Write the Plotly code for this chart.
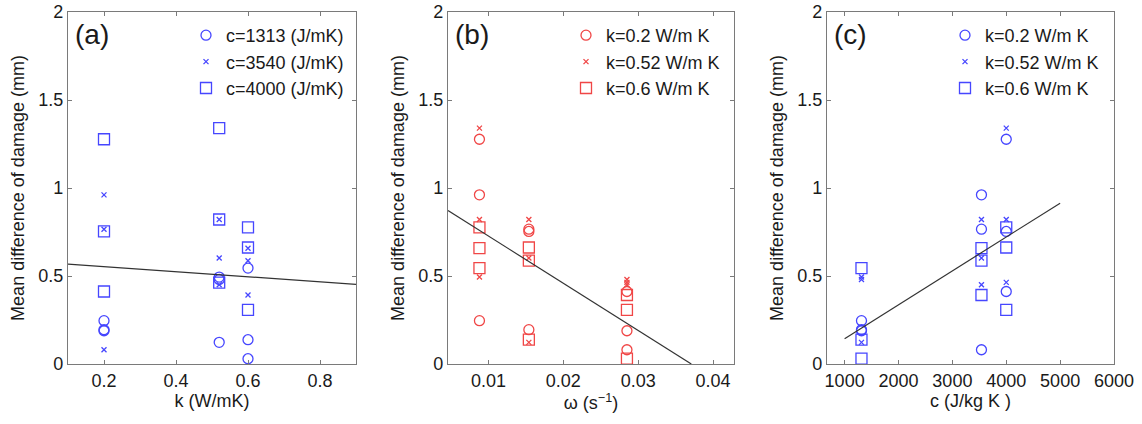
import plotly.graph_objects as go

# ---- data ----
# panel (a): x = k (W/mK), grouped by c
k_levels = [0.2, 0.2, 0.2, 0.52, 0.52, 0.52, 0.6, 0.6, 0.6]
a_c1313 = [0.246, 0.195, 0.189, 0.494, 0.123, 0.480, 0.545, 0.138, 0.030]
a_c3540 = [0.961, 0.766, 0.081, 0.821, 0.602, 0.450, 0.658, 0.587, 0.392]
a_c4000 = [1.277, 0.753, 0.412, 1.340, 0.821, 0.462, 0.776, 0.662, 0.308]
a_fit_x = [0.1, 0.9]
a_fit_y = [0.568, 0.452]

# panel (b): x = omega (1/s), grouped by k
w_levels = [0.0088, 0.0088, 0.0088, 0.0154, 0.0154, 0.0154, 0.0285, 0.0285, 0.0285]
b_k02 = [1.277, 0.961, 0.246, 0.766, 0.753, 0.195, 0.412, 0.189, 0.081]
b_k052 = [1.340, 0.821, 0.494, 0.821, 0.602, 0.123, 0.464, 0.450, 0.480]
b_k06 = [0.776, 0.658, 0.545, 0.662, 0.587, 0.138, 0.392, 0.308, 0.030]
b_fit_x = [0.0046, 0.0371]
b_fit_y = [0.872, 0.0]

# panel (c): x = c (J/kg K), grouped by k
c_levels = [1313, 1313, 1313, 3540, 3540, 3540, 4000, 4000, 4000]
c_k02 = [0.246, 0.195, 0.189, 0.961, 0.766, 0.081, 1.277, 0.753, 0.412]
c_k052 = [0.494, 0.480, 0.123, 0.821, 0.602, 0.450, 1.340, 0.821, 0.464]
c_k06 = [0.545, 0.138, 0.030, 0.658, 0.587, 0.392, 0.776, 0.662, 0.308]
c_fit_x = [1000, 5000]
c_fit_y = [0.144, 0.914]

y_ticks = [0, 0.5, 1, 1.5, 2]
y_ticktext = ["0", "0.5", "1", "1.5", "2"]
a_ticks = [0.2, 0.4, 0.6, 0.8]
b_ticks = [0.01, 0.02, 0.03, 0.04]
c_ticks = [1000, 2000, 3000, 4000, 5000, 6000]

BLUE = "rgb(70,70,255)"
RED = "rgb(240,70,70)"
FONT = "Liberation Sans, Arial, sans-serif"
TXT = "#1a1a1a"
FRAME = "#7a7a7a"

fig = go.Figure()

def add_group(xs, ys, names, color, xa, ya, legend):
    symbols = [("circle-open", 10), ("x-thin-open", 5), ("square-open", 11)]
    for (sym, sz), yv, nm in zip(symbols, ys, names):
        fig.add_trace(go.Scatter(
            x=xs, y=yv, mode="markers", name=nm,
            marker=dict(symbol=sym, size=sz, color=color,
                        line=dict(color=color, width=1.3)),
            xaxis=xa, yaxis=ya, legend=legend, cliponaxis=False))

add_group(k_levels, [a_c1313, a_c3540, a_c4000],
          ["c=1313 (J/mK)", "c=3540 (J/mK)", "c=4000 (J/mK)"], BLUE, "x", "y", "legend")
add_group(w_levels, [b_k02, b_k052, b_k06],
          ["k=0.2 W/m K", "k=0.52 W/m K", "k=0.6 W/m K"], RED, "x2", "y2", "legend2")
add_group(c_levels, [c_k02, c_k052, c_k06],
          ["k=0.2 W/m K", "k=0.52 W/m K", "k=0.6 W/m K"], BLUE, "x3", "y3", "legend3")

for fx, fy, xa, ya in [(a_fit_x, a_fit_y, "x", "y"), (b_fit_x, b_fit_y, "x2", "y2"),
                       (c_fit_x, c_fit_y, "x3", "y3")]:
    fig.add_trace(go.Scatter(x=fx, y=fy, mode="lines", showlegend=False,
                             line=dict(color="#333333", width=1.2), xaxis=xa, yaxis=ya))

W, H = 1142, 424
doms = [(68, 356), (448, 734), (827, 1114)]
ydom = [1 - 364 / H, 1 - 12 / H]

axis_common = dict(showline=True, mirror="ticks", linecolor=FRAME, linewidth=1.2,
                   ticks="inside", ticklen=4, tickcolor=FRAME, showgrid=False,
                   zeroline=False, automargin=False, ticklabeloverflow="allow",
                   tickfont=dict(family=FONT, size=18, color=TXT),
                   title_font=dict(family=FONT, size=18, color=TXT))

xinfo = [([0.1, 0.9], a_ticks, [str(t) for t in a_ticks], "k (W/mK)"),
         ([0.0046, 0.0428], b_ticks, [str(t) for t in b_ticks], "ω (s<sup>−1</sup>)"),
         ([673, 6000], c_ticks, [str(t) for t in c_ticks], "c (J/kg K )")]

layout = dict(width=W, height=H, paper_bgcolor="white", plot_bgcolor="white",
              margin=dict(l=0, r=0, t=0, b=0), showlegend=True)
for i, ((l, r), (rng, tv, tt, ttl)) in enumerate(zip(doms, xinfo)):
    sfx = "" if i == 0 else str(i + 1)
    layout["xaxis" + sfx] = dict(axis_common, domain=[l / W, r / W], range=rng,
                                 tickvals=tv, ticktext=tt, anchor="y" + sfx,
                                 title=dict(text=ttl, standoff=0))
    layout["yaxis" + sfx] = dict(axis_common, domain=ydom, range=[0, 2],
                                 tickvals=y_ticks, ticktext=y_ticktext, anchor="x" + sfx,
                                 title=dict(text="Mean difference of damage (mm)", standoff=8))
    layout["legend" + sfx] = dict(x=(l + 118) / W, y=1 - 17 / H, xanchor="left", yanchor="top",
                                  bgcolor="rgba(0,0,0,0)", borderwidth=0,
                                  font=dict(family=FONT, size=18, color=TXT),
                                  tracegroupgap=0, itemsizing="trace")

fig.update_layout(**layout)

for (l, r), lab in zip(doms, ["(a)", "(b)", "(c)"]):
    fig.add_annotation(x=(l + 5) / W, y=1 - 34 / H, xref="paper", yref="paper",
                       text=lab, showarrow=False, xanchor="left", yanchor="middle",
                       font=dict(family=FONT, size=28, color=TXT))

fig.write_html("out.html", config={"displayModeBar": False},
               post_script="document.body.style.margin='0';document.body.style.overflow='hidden';")
